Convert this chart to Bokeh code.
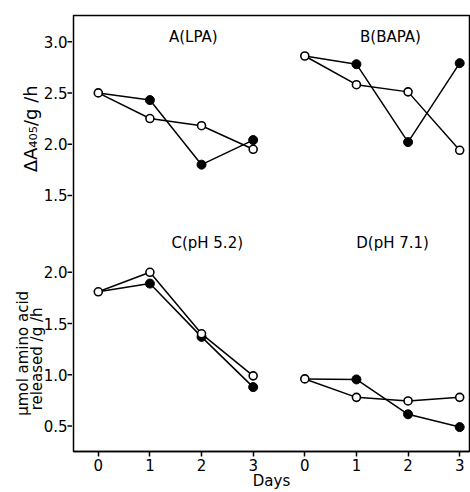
import math
from bokeh.plotting import figure
from bokeh.layouts import row
from bokeh.models import FixedTicker, Range1d
from bokeh.core.properties import value
from bokeh.embed import file_html
from bokeh.resources import INLINE

FONT = "DejaVu Sans"

days = [0, 1, 2, 3]
day_labels = ["0", "1", "2", "3", "0", "1", "2", "3"]

# upper panel (ΔA405/g/h)
A_open = [2.50, 2.25, 2.18, 1.95]
A_filled = [2.50, 2.43, 1.80, 2.04]
B_open = [2.86, 2.58, 2.51, 1.94]
B_filled = [2.86, 2.78, 2.02, 2.79]
# lower panel (µmol amino acid released/g/h)
C_open = [1.81, 2.00, 1.40, 0.99]
C_filled = [1.81, 1.89, 1.37, 0.88]
D_open = [0.96, 0.78, 0.745, 0.78]
D_filled = [0.96, 0.955, 0.615, 0.49]

top_ticks = [1.5, 2.0, 2.5, 3.0]
bottom_ticks = [0.5, 1.0, 1.5, 2.0]
panel_titles = ["A(LPA)", "B(BAPA)", "C(pH 5.2)", "D(pH 7.1)"]
top_title = "ΔA₄₀₅/g /h"
bottom_title = ["µmol amino acid", "released /g /h"]

TOP_OFFSET = 1.25   # upper panel shifted up on the shared axis
SECOND_SET = 4      # second group of days starts here

W, H = 470, 492
LW = 72            # strip holding y ticks, tick labels and y titles
TOPB, BOTB = 15, 40
YR = (0.252, 4.505)
XR = (-0.48, 7.19)

yt = bottom_ticks + [v + TOP_OFFSET for v in top_ticks]
ylabels = [f"{v:.1f}" for v in bottom_ticks] + [f"{v:.1f}" for v in top_ticks]

# ---- left strip: y ticks, tick labels and rotated titles ----
lab = figure(width=LW, height=H, output_backend="svg", toolbar_location=None,
             x_range=Range1d(0, LW), y_range=Range1d(*YR),
             x_axis_location=None, y_axis_location=None,
             min_border_left=0, min_border_right=0,
             min_border_top=TOPB, min_border_bottom=BOTB)
lab.outline_line_color = None
lab.grid.visible = False
lab.background_fill_color = "white"
lab.border_fill_color = "white"
lab.segment(x0=[LW - 5] * len(yt), x1=[LW + 1] * len(yt), y0=yt, y1=yt,
            line_color="black", line_width=1.5)
lab.text(x=[LW - 5] * len(yt), y=yt, text=ylabels, text_font=value(FONT),
         text_font_size="15px", text_align="right", text_baseline="middle",
         text_color="black")
lab.text(x=[30], y=[3.40], text=[top_title], angle=math.pi / 2,
         text_font=value(FONT), text_font_size="18px", text_align="center",
         text_baseline="middle", text_color="black")
lab.text(x=[22, 36], y=[1.21, 1.155], text=bottom_title, angle=math.pi / 2,
         text_font=value(FONT), text_font_size="15px", text_align="center",
         text_baseline="middle", text_color="black")

# ---- main plot ----
p = figure(width=W - LW, height=H, output_backend="svg", toolbar_location=None,
           x_range=Range1d(*XR), y_range=Range1d(*YR), y_axis_location=None,
           min_border_left=1, min_border_right=1, min_border_top=TOPB,
           min_border_bottom=BOTB)
p.background_fill_color = "white"
p.border_fill_color = "white"
p.outline_line_color = "black"
p.outline_line_width = 1.5
p.grid.visible = False

xt = list(range(8))
p.xaxis.ticker = FixedTicker(ticks=xt)
p.xaxis.major_label_overrides = {t: l for t, l in zip(xt, day_labels)}
ax = p.xaxis[0]
ax.axis_line_color = "black"
ax.axis_line_width = 1.5
ax.major_tick_line_color = "black"
ax.major_tick_line_width = 1.5
ax.major_tick_in = 0
ax.major_tick_out = 5
ax.minor_tick_line_color = None
ax.major_label_text_font = FONT
ax.major_label_text_font_size = "15px"
ax.major_label_text_color = "black"
ax.major_label_standoff = 2
ax.axis_label = "Days"
ax.axis_label_text_font = FONT
ax.axis_label_text_font_size = "15px"
ax.axis_label_text_font_style = "normal"
ax.axis_label_text_color = "black"
ax.axis_label_standoff = -2


def series(xoff, yoff, opn, fil):
    xs = [d + xoff for d in days]
    yo = [v + yoff for v in opn]
    yf = [v + yoff for v in fil]
    p.line(xs, yf, line_color="black", line_width=1.5)
    p.line(xs, yo, line_color="black", line_width=1.5)
    p.scatter(xs[1:], yf[1:], size=9, fill_color="black", line_color="black")
    p.scatter(xs, yo, size=8, fill_color="white", line_color="black", line_width=1.6)


series(0, TOP_OFFSET, A_open, A_filled)
series(SECOND_SET, TOP_OFFSET, B_open, B_filled)
series(0, 0, C_open, C_filled)
series(SECOND_SET, 0, D_open, D_filled)

title_pos = [(1.84, 4.30), (5.66, 4.30), (2.11, 2.29), (5.70, 2.29)]
p.text(x=[t[0] for t in title_pos], y=[t[1] for t in title_pos], text=panel_titles,
       text_font=value(FONT), text_font_size="15px", text_align="center",
       text_baseline="middle", text_color="black")

layout = row(lab, p, spacing=0)
open("out.html", "w").write(file_html(layout, INLINE))
